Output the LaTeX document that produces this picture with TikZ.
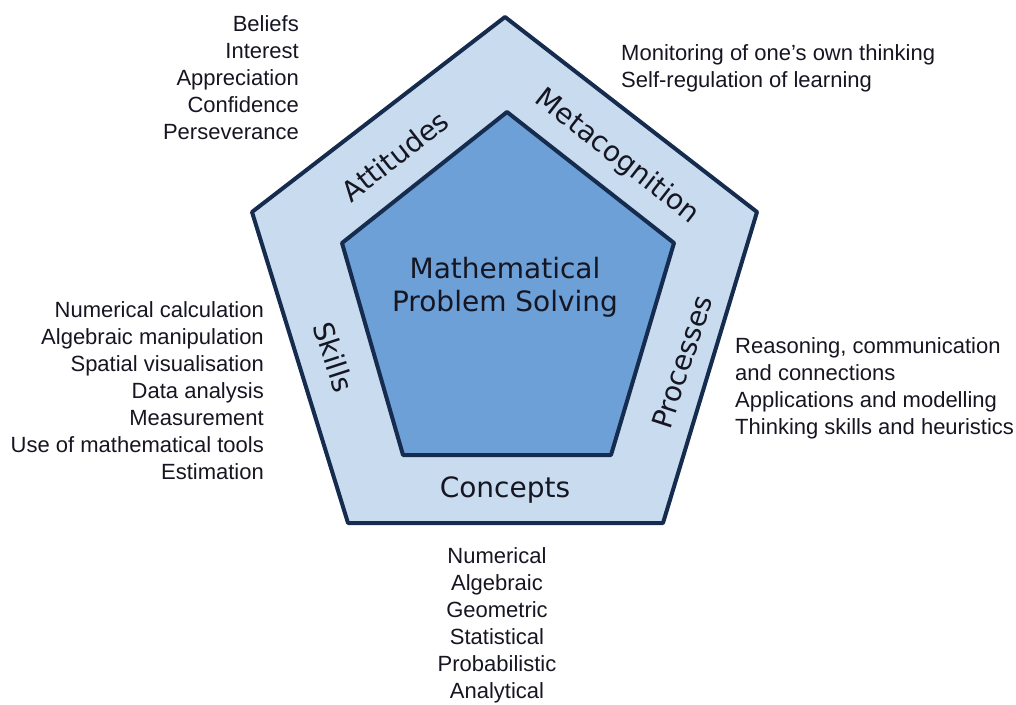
\documentclass[tikz,border=0pt]{standalone}
\usepackage{fontspec}
\setmainfont{Liberation Sans}
\newfontfamily\wideface{DejaVu Sans}
\usetikzlibrary{calc}

\definecolor{bandblue}{RGB}{201,219,239}
\definecolor{coreblue}{RGB}{108,160,215}
\definecolor{edgeblue}{RGB}{22,44,78}
\definecolor{inkblack}{RGB}{22,22,34}

\begin{document}
\begin{tikzpicture}[x=1pt,y=-1pt,
        listtext/.style={font={\fontsize{22}{27}\selectfont}, inner sep=0pt, text=inkblack},
        bandtext/.style={font={\wideface\fontsize{28}{33}\selectfont}, inner sep=0pt, text=inkblack},
        pentagon/.style={draw=edgeblue, line width=4pt, line join=round}]
        \useasboundingbox (0,0) rectangle (1016,704);

        % Corners of the two pentagons
        \coordinate (otop) at (505,17);
        \coordinate (oright) at (757,212);
        \coordinate (obr) at (663,523);
        \coordinate (obl) at (348,523);
        \coordinate (oleft) at (252,212);
        \coordinate (itop) at (507,112);
        \coordinate (iright) at (674,243);
        \coordinate (ibr) at (611,455);
        \coordinate (ibl) at (403,455);
        \coordinate (ileft) at (342,243);

        % Draw the outer band and the core
        \draw[pentagon, fill=bandblue] (otop) -- (oright) -- (obr) -- (obl) -- (oleft) -- cycle;
        \draw[pentagon, fill=coreblue] (itop) -- (iright) -- (ibr) -- (ibl) -- (ileft) -- cycle;

        % Core label
        \node[bandtext, anchor=north, align=center] (core) at (505,257) {Mathematical\\Problem Solving};

        % Labels on the band
        \node[bandtext, rotate=38] (attitudes) at (395,156) {Attitudes};
        \node[bandtext, rotate=-38] (metacog) at (617,157) {Metacognition};
        \node[bandtext, rotate=-72] (skills) at (334,357) {Skills};
        \node[bandtext, rotate=72] (processes) at (682,362) {Processes};
        \node[bandtext, anchor=base] (concepts) at (505,497) {Concepts};

        % Lists round the pentagon
        \node[listtext, anchor=north east, align=right] (attlist) at (299,15) {Beliefs\\Interest\\Appreciation\\Confidence\\Perseverance};
        \node[listtext, anchor=north west, align=left] (metalist) at (621,44) {Monitoring of one’s own thinking\\Self-regulation of learning};
        \node[listtext, anchor=north east, align=right] (skilllist) at (264,301) {Numerical calculation\\Algebraic manipulation\\Spatial visualisation\\Data analysis\\Measurement\\Use of mathematical tools\\Estimation};
        \node[listtext, anchor=north west, align=left] (proclist) at (735,337) {Reasoning, communication\\and connections\\Applications and modelling\\Thinking skills and heuristics};
        \node[listtext, anchor=north, align=center] (conclist) at (497,547) {Numerical\\Algebraic\\Geometric\\Statistical\\Probabilistic\\Analytical};
    \end{tikzpicture}
\end{document}
